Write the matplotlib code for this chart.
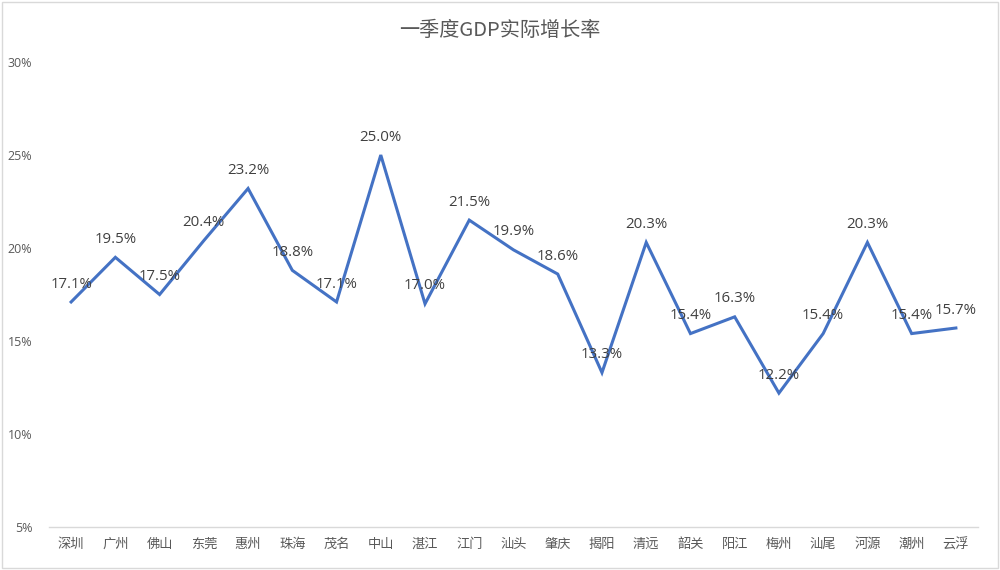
import matplotlib
matplotlib.use("Agg")
import matplotlib.pyplot as plt
from matplotlib.patches import Rectangle
from matplotlib.ticker import FuncFormatter

plt.rcParams['font.family'] = ['Noto Sans CJK SC', 'DejaVu Sans']

cities = ["深圳", "广州", "佛山", "东莞", "惠州", "珠海", "茂名", "中山", "湛江", "江门", "汕头",
          "肇庆", "揭阳", "清远", "韶关", "阳江", "梅州", "汕尾", "河源", "潮州", "云浮"]
growth = [17.1, 19.5, 17.5, 20.4, 23.2, 18.8, 17.1, 25.0, 17.0, 21.5, 19.9,
          18.6, 13.3, 20.3, 15.4, 16.3, 12.2, 15.4, 20.3, 15.4, 15.7]
y_ticks = [5, 10, 15, 20, 25, 30]

LINE = "#4472C4"
TXT = "#595959"
LATIN = ["Open Sans", "DejaVu Sans"]

fig = plt.figure(figsize=(10, 5.7), dpi=100)
ax = fig.add_axes([0.049, 0.0754, 0.929, 0.8158])

x = list(range(len(cities)))
ax.plot(x, growth, color=LINE, lw=2.2, solid_joinstyle="miter")

for xi, v in zip(x, growth):
    ax.annotate(f"{v:.1f}%", (xi, v), xytext=(0, 7.5), textcoords="offset points",
                ha="center", va="bottom", fontsize=10.8, color="#404040", family=LATIN)

ax.set_xlim(-0.5, len(cities) - 0.5)
ax.set_ylim(5, 30)
ax.set_yticks(y_ticks)
ax.yaxis.set_major_formatter(FuncFormatter(lambda v, p: f"{v:.0f}%"))
ax.set_xticks(x)
ax.set_xticklabels(cities)
ax.tick_params(axis="both", length=0, colors=TXT, labelsize=9.5)
ax.tick_params(axis="x", pad=8)
ax.tick_params(axis="y", pad=12)
for lbl in ax.get_yticklabels():
    lbl.set_family(LATIN)
    lbl.set_fontsize(9)

for s in ["top", "right", "left"]:
    ax.spines[s].set_visible(False)
ax.spines["bottom"].set_color("#D9D9D9")
ax.spines["bottom"].set_linewidth(1.0)

fig.text(0.5, 0.947, "一季度GDP实际增长率", ha="center", va="center",
         fontsize=14.5, color=TXT)

fig.patches.append(Rectangle((0.002, 0.003), 0.996, 0.994, transform=fig.transFigure,
                             fill=False, edgecolor="#D9D9D9", lw=1.0))

fig.savefig("out.png", dpi=100)
